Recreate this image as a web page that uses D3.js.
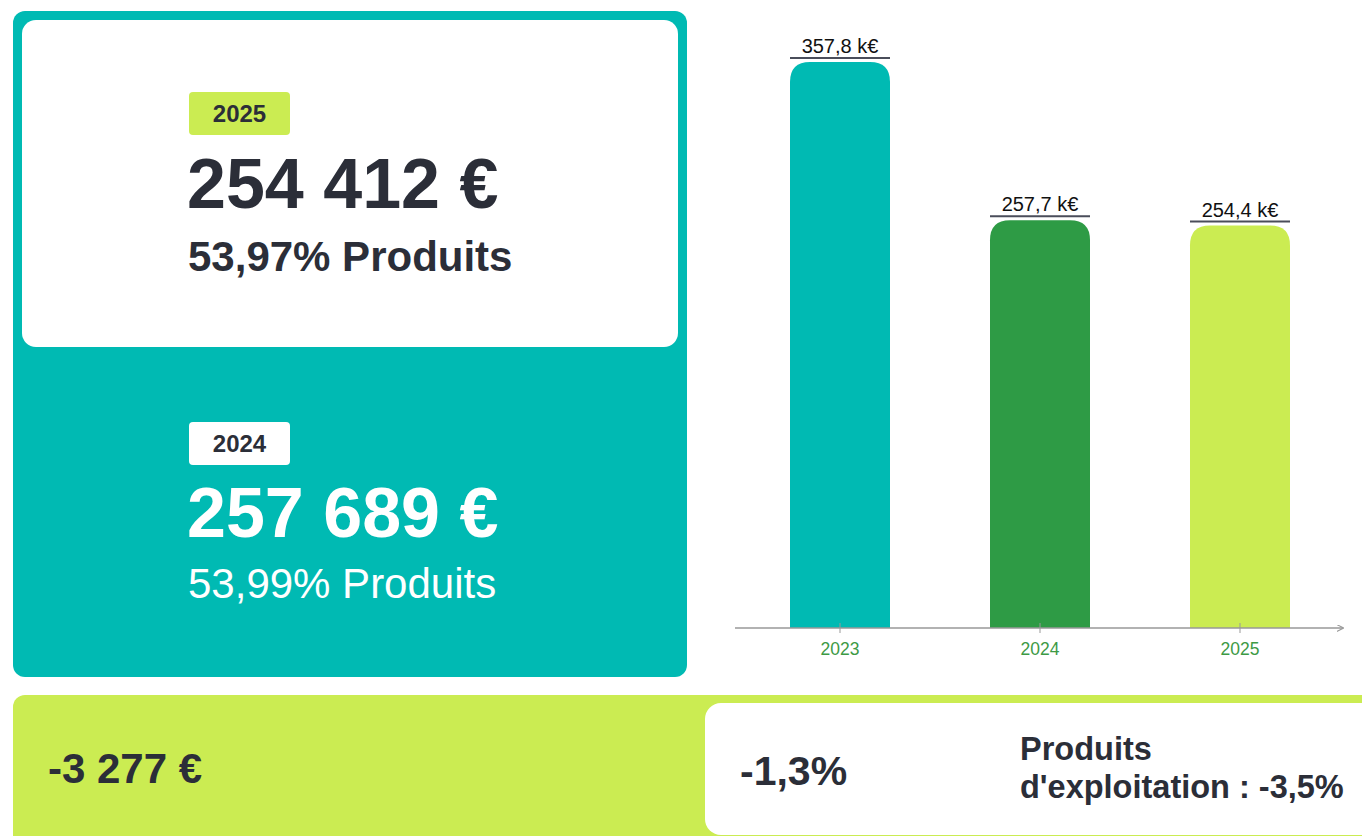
<!DOCTYPE html>
<html>
<head>
<meta charset="utf-8">
<script src="https://cdn.jsdelivr.net/npm/d3@7"></script>
<style>
  body { margin: 0; background: #fff; }
  svg { display: block; font-family: "Liberation Sans", Arial, sans-serif; }
</style>
</head>
<body>
<svg id="chart" width="1362" height="836"></svg>
<script>
// chart data
const years = ['2023', '2024', '2025'];
const totals = [357.8, 257.7, 254.4];   // k€
const barColors = ['#00bab3', '#2e9b45', '#cbec52'];

// kpi data
const currentYear = '2025';
const currentAmount = '254 412 €';
const currentShare = '53,97% Produits';
const previousYear = '2024';
const previousAmount = '257 689 €';
const previousShare = '53,99% Produits';
const deltaAmount = '-3 277 €';
const deltaPct = '-1,3%';
const productsLines = ['Produits', "d'exploitation : -3,5%"];

const dark = '#2b2e38';
const teal = '#00bab3';
const lime = '#cbec52';

const svg = d3.select('#chart');

// ---- left panel
svg.append('rect')
    .attr('x', 13).attr('y', 11)
    .attr('width', 674).attr('height', 666)
    .attr('rx', 12)
    .attr('fill', teal);

svg.append('rect')
    .attr('x', 22).attr('y', 20)
    .attr('width', 656).attr('height', 327)
    .attr('rx', 14)
    .attr('fill', '#fff');

function badge(y, fill, label) {
    svg.append('rect')
        .attr('x', 189).attr('y', y)
        .attr('width', 101).attr('height', 43)
        .attr('rx', 4)
        .attr('fill', fill);
    svg.append('text')
        .attr('x', 239.5).attr('y', y + 30)
        .attr('text-anchor', 'middle')
        .attr('font-size', 24).attr('font-weight', 'bold')
        .attr('fill', dark)
        .text(label);
}

badge(92, lime, currentYear);
svg.append('text')
    .attr('x', 187).attr('y', 208)
    .attr('font-size', 70).attr('font-weight', 'bold')
    .attr('fill', dark)
    .text(currentAmount);
svg.append('text')
    .attr('x', 188).attr('y', 271)
    .attr('font-size', 42).attr('font-weight', 'bold')
    .attr('fill', dark)
    .text(currentShare);

badge(422, '#fff', previousYear);
svg.append('text')
    .attr('x', 187).attr('y', 537)
    .attr('font-size', 70).attr('font-weight', 'bold')
    .attr('fill', '#fff')
    .text(previousAmount);
svg.append('text')
    .attr('x', 188).attr('y', 598)
    .attr('font-size', 42)
    .attr('fill', '#fff')
    .text(previousShare);

// ---- bottom strip
svg.append('rect')
    .attr('x', 13).attr('y', 695)
    .attr('width', 1400).attr('height', 200)
    .attr('rx', 12)
    .attr('fill', lime);

svg.append('rect')
    .attr('x', 705).attr('y', 703)
    .attr('width', 700).attr('height', 132)
    .attr('rx', 16)
    .attr('fill', '#fff');

svg.append('text')
    .attr('x', 48).attr('y', 783)
    .attr('font-size', 42).attr('font-weight', 'bold')
    .attr('fill', dark)
    .text(deltaAmount);

svg.append('text')
    .attr('x', 740).attr('y', 785)
    .attr('font-size', 41).attr('font-weight', 'bold')
    .attr('fill', dark)
    .text(deltaPct);

svg.append('text')
    .attr('x', 1020).attr('y', 760)
    .attr('font-size', 32.5).attr('font-weight', 'bold')
    .attr('fill', dark)
    .selectAll('tspan')
    .data(productsLines)
    .join('tspan')
    .attr('x', 1020)
    .attr('dy', (d, i) => i === 0 ? 0 : 38)
    .text(d => d);

// ---- bar chart
const axisY = 628;
const x = d3.scaleBand()
    .domain(years)
    .range([740, 1340])
    .paddingInner(0.5)
    .paddingOuter(0.25);

const y = d3.scaleLinear()
    .domain([0, d3.max(totals)])
    .range([axisY, 62]);

const data = years.map((year, i) => ({ year, value: totals[i], color: barColors[i] }));

function topRoundedBar(x0, y0, w, h, r) {
    return `M${x0},${y0 + h}V${y0 + r}Q${x0},${y0} ${x0 + r},${y0}` +
        `H${x0 + w - r}Q${x0 + w},${y0} ${x0 + w},${y0 + r}V${y0 + h}Z`;
}

const chart = svg.append('g');

chart.selectAll('path.bar')
    .data(data)
    .join('path')
    .attr('class', 'bar')
    .attr('fill', d => d.color)
    .attr('d', d => topRoundedBar(x(d.year), y(d.value), x.bandwidth(), axisY - y(d.value), 20));

chart.selectAll('line.cap')
    .data(data)
    .join('line')
    .attr('class', 'cap')
    .attr('x1', d => x(d.year))
    .attr('x2', d => x(d.year) + x.bandwidth())
    .attr('y1', d => y(d.value) - 4)
    .attr('y2', d => y(d.value) - 4)
    .attr('stroke', '#4a4d5a')
    .attr('stroke-width', 2);

chart.selectAll('text.value')
    .data(data)
    .join('text')
    .attr('class', 'value')
    .attr('x', d => x(d.year) + x.bandwidth() / 2)
    .attr('y', d => y(d.value) - 9)
    .attr('text-anchor', 'middle')
    .attr('font-size', 20)
    .attr('fill', '#111')
    .text(d => d.value.toFixed(1).replace('.', ',') + ' k€');

// axis
svg.append('defs').append('marker')
    .attr('id', 'arrow')
    .attr('viewBox', '0 0 10 10')
    .attr('refX', 9).attr('refY', 5)
    .attr('markerWidth', 7).attr('markerHeight', 7)
    .attr('markerUnits', 'userSpaceOnUse')
    .attr('orient', 'auto')
    .append('path')
    .attr('d', 'M0,0L10,5L0,10')
    .attr('fill', 'none')
    .attr('stroke', '#999')
    .attr('stroke-width', 1.5);

const axis = chart.append('g')
    .attr('transform', `translate(0,${axisY})`)
    .call(d3.axisBottom(x).tickSize(5).tickPadding(10));

axis.select('.domain').remove();
axis.selectAll('.tick line')
    .attr('y1', -5).attr('y2', 5)
    .attr('stroke', '#999');
axis.selectAll('.tick text')
    .attr('font-size', 17.5)
    .attr('font-family', '"Liberation Sans", Arial, sans-serif')
    .attr('fill', '#3d9a45');

axis.append('line')
    .attr('x1', 735).attr('x2', 1343)
    .attr('stroke', '#999')
    .attr('stroke-width', 1.5)
    .attr('marker-end', 'url(#arrow)');
</script>
</body>
</html>
